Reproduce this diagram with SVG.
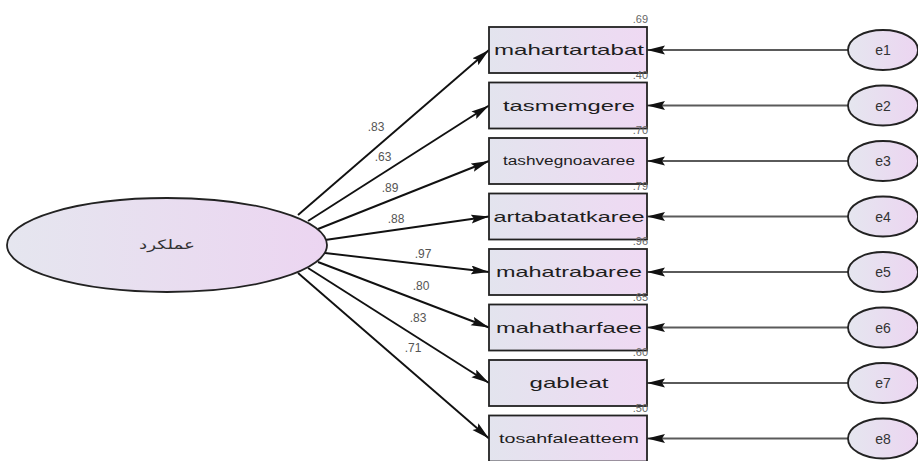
<svg xmlns="http://www.w3.org/2000/svg" width="918" height="461" viewBox="0 0 918 461">
<defs>
<linearGradient id="gBox" x1="0" y1="0" x2="1" y2="0">
<stop offset="0" stop-color="#e3e4ee"/>
<stop offset="1" stop-color="#efd9f3"/>
</linearGradient>
<linearGradient id="gEll" x1="0" y1="0" x2="1" y2="0">
<stop offset="0" stop-color="#e5e6ef"/>
<stop offset="1" stop-color="#ecd5f1"/>
</linearGradient>
<marker id="ah" markerUnits="userSpaceOnUse" markerWidth="20" markerHeight="10" refX="18" refY="4.5" orient="auto">
<path d="M0,0 L18,4.5 L0,9 L3,4.5 Z" fill="#111"/>
</marker>
</defs>
<style>
.box{fill:url(#gBox);stroke:#222;stroke-width:1.8}
.ell{fill:url(#gEll);stroke:#222;stroke-width:1.8}
.bt{font-family:"Liberation Sans",Arial,sans-serif;fill:#1e1e1e;text-anchor:middle}
.et{font-family:"Liberation Sans",Arial,sans-serif;font-size:14px;fill:#333;text-anchor:middle}
.r2{font-family:"Liberation Sans",Arial,sans-serif;font-size:11px;fill:#666;text-anchor:end}
.lw{font-family:"Liberation Sans",Arial,sans-serif;font-size:12px;fill:#555;text-anchor:middle}
.ld{stroke:#111;stroke-width:1.9;fill:none;marker-end:url(#ah)}
.er{stroke:#5a5a5a;stroke-width:2.2;fill:none;marker-end:url(#ah)}
</style>
<rect width="918" height="461" fill="#fff"/>

<g id="connectors">
<line class="ld" x1="298" y1="215" x2="489" y2="50"/>
<line class="ld" x1="308" y1="221" x2="489" y2="105.5"/>
<line class="ld" x1="318" y1="229" x2="489" y2="161"/>
<line class="ld" x1="325" y1="240" x2="489" y2="216.5"/>
<line class="ld" x1="325" y1="253" x2="489" y2="272"/>
<line class="ld" x1="318" y1="262" x2="489" y2="327.5"/>
<line class="ld" x1="308" y1="268" x2="489" y2="383"/>
<line class="ld" x1="298" y1="273" x2="489" y2="438.5"/>
<line class="er" x1="848" y1="50" x2="647" y2="50"/>
<line class="er" x1="848" y1="105.5" x2="647" y2="105.5"/>
<line class="er" x1="848" y1="161" x2="647" y2="161"/>
<line class="er" x1="848" y1="216.5" x2="647" y2="216.5"/>
<line class="er" x1="848" y1="272" x2="647" y2="272"/>
<line class="er" x1="848" y1="327.5" x2="647" y2="327.5"/>
<line class="er" x1="848" y1="383" x2="647" y2="383"/>
<line class="er" x1="848" y1="438.5" x2="647" y2="438.5"/>
<text class="lw" x="376" y="131">.83</text>
<text class="lw" x="383" y="161">.63</text>
<text class="lw" x="390" y="192">.89</text>
<text class="lw" x="396" y="223">.88</text>
<text class="lw" x="423" y="258">.97</text>
<text class="lw" x="421" y="290">.80</text>
<text class="lw" x="418" y="322">.83</text>
<text class="lw" x="413" y="352">.71</text>
</g>

<g id="latent">
<ellipse class="ell" cx="167" cy="245" rx="160" ry="47"/>
<text x="167" y="249" font-family="'DejaVu Sans','Noto Sans',sans-serif" font-size="13" fill="#333" text-anchor="middle" direction="rtl" textLength="56" lengthAdjust="spacingAndGlyphs">عملکرد</text>
</g>

<g id="v1"><rect class="box" x="489" y="27" width="158" height="46"/><text class="bt" x="569" y="55" font-size="15" textLength="150" lengthAdjust="spacingAndGlyphs">mahartartabat</text><text class="r2" x="648" y="23">.69</text></g>
<g id="v2"><rect class="box" x="489" y="82.5" width="158" height="46"/><text class="bt" x="569" y="110.5" font-size="15" textLength="132" lengthAdjust="spacingAndGlyphs">tasmemgere</text><text class="r2" x="648" y="79">.40</text></g>
<g id="v3"><rect class="box" x="489" y="138" width="158" height="46"/><text class="bt" x="569" y="165" font-size="12" textLength="132" lengthAdjust="spacingAndGlyphs">tashvegnoavaree</text><text class="r2" x="648" y="134">.70</text></g>
<g id="v4"><rect class="box" x="489" y="193.5" width="158" height="46"/><text class="bt" x="569" y="221.5" font-size="15" textLength="151" lengthAdjust="spacingAndGlyphs">artabatatkaree</text><text class="r2" x="648" y="190">.79</text></g>
<g id="v5"><rect class="box" x="489" y="249" width="158" height="46"/><text class="bt" x="569" y="277" font-size="15" textLength="146" lengthAdjust="spacingAndGlyphs">mahatrabaree</text><text class="r2" x="648" y="245">.96</text></g>
<g id="v6"><rect class="box" x="489" y="304.5" width="158" height="46"/><text class="bt" x="569" y="332.5" font-size="15" textLength="146" lengthAdjust="spacingAndGlyphs">mahatharfaee</text><text class="r2" x="648" y="301">.65</text></g>
<g id="v7"><rect class="box" x="489" y="360" width="158" height="46"/><text class="bt" x="569" y="388" font-size="15" textLength="79" lengthAdjust="spacingAndGlyphs">gableat</text><text class="r2" x="648" y="356">.60</text></g>
<g id="v8"><rect class="box" x="489" y="415.5" width="158" height="46"/><text class="bt" x="569" y="443" font-size="13" textLength="140" lengthAdjust="spacingAndGlyphs">tosahfaleatteem</text><text class="r2" x="648" y="412">.50</text></g>

<g id="e1"><ellipse class="ell" cx="883" cy="50" rx="35" ry="20"/><text class="et" x="883" y="55">e1</text></g>
<g id="e2"><ellipse class="ell" cx="883" cy="105.5" rx="35" ry="20"/><text class="et" x="883" y="110.5">e2</text></g>
<g id="e3"><ellipse class="ell" cx="883" cy="161" rx="35" ry="20"/><text class="et" x="883" y="166">e3</text></g>
<g id="e4"><ellipse class="ell" cx="883" cy="216.5" rx="35" ry="20"/><text class="et" x="883" y="221.5">e4</text></g>
<g id="e5"><ellipse class="ell" cx="883" cy="272" rx="35" ry="20"/><text class="et" x="883" y="277">e5</text></g>
<g id="e6"><ellipse class="ell" cx="883" cy="327.5" rx="35" ry="20"/><text class="et" x="883" y="332.5">e6</text></g>
<g id="e7"><ellipse class="ell" cx="883" cy="383" rx="35" ry="20"/><text class="et" x="883" y="388">e7</text></g>
<g id="e8"><ellipse class="ell" cx="883" cy="438.5" rx="35" ry="20"/><text class="et" x="883" y="443.5">e8</text></g>
</svg>
